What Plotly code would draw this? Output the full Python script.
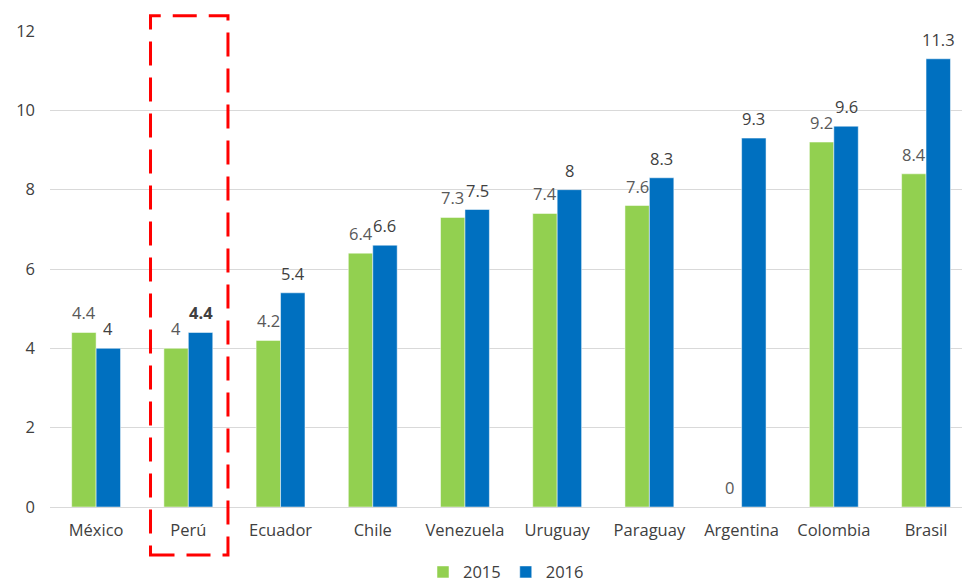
import plotly.graph_objects as go

countries = ["México", "Perú", "Ecuador", "Chile", "Venezuela", "Uruguay",
             "Paraguay", "Argentina", "Colombia", "Brasil"]
values_2015 = [4.4, 4.0, 4.2, 6.4, 7.3, 7.4, 7.6, 0, 9.2, 8.4]
values_2016 = [4.0, 4.4, 5.4, 6.6, 7.5, 8.0, 8.3, 9.3, 9.6, 11.3]
y_ticks = [0, 2, 4, 6, 8, 10, 12]
highlight = "Perú"

GREEN = "#92D050"
BLUE = "#0070C0"
FONT = "Open Sans"
SIZE = 16.5
BAR_HALF_PX = 12.2  # half the drawn width of one bar, for label centring


def fmt(v):
    return f"{v:g}"


fig = go.Figure()
fig.add_trace(go.Bar(
    name="2015", x=countries, y=values_2015, marker_color=GREEN,
    marker_line=dict(color="white", width=0.5),
))
fig.add_trace(go.Bar(
    name="2016", x=countries, y=values_2016, marker_color=BLUE,
    marker_line=dict(color="white", width=0.5),
))

# value labels above each bar
for c, v in zip(countries, values_2015):
    fig.add_annotation(
        x=c, y=v, text=fmt(v), showarrow=False, yanchor="bottom",
        xshift=-BAR_HALF_PX, yshift=6,
        font=dict(color="#595959", size=SIZE, family=FONT),
    )
for c, v in zip(countries, values_2016):
    label = f"<b>{fmt(v)}</b>" if c == highlight else fmt(v)
    fig.add_annotation(
        x=c, y=v, text=label, showarrow=False, yanchor="bottom",
        xshift=BAR_HALF_PX, yshift=6,
        font=dict(color="#404040", size=SIZE, family=FONT),
    )

# dashed frame around the highlighted country
idx = countries.index(highlight)
fig.add_shape(
    type="rect", xref="x", yref="paper",
    x0=idx - 0.41, x1=idx + 0.43, y0=-0.101, y1=1.032,
    line=dict(color="#FF0000", width=3, dash="24px,12px"),
    fillcolor="rgba(0,0,0,0)", layer="above",
)

fig.update_layout(
    width=962, height=582,
    margin=dict(l=50, r=0, t=31, b=75, autoexpand=False),
    paper_bgcolor="white", plot_bgcolor="white",
    barmode="group", bargap=0.47, bargroupgap=0,
    font=dict(family=FONT, size=SIZE, color="#404040"),
    showlegend=True,
    legend=dict(orientation="h", x=0.5, xanchor="center", y=-0.137,
                yanchor="middle", font=dict(size=SIZE, color="#404040"),
                itemwidth=30, traceorder="normal"),
)
fig.update_xaxes(
    range=[-0.5, 9.39], showgrid=False, showline=False, ticks="",
    tickfont=dict(size=SIZE, color="#404040"), ticklabelstandoff=11,
)
fig.update_yaxes(
    range=[0, 12], tickvals=y_ticks, showgrid=True, gridcolor="#D9D9D9",
    gridwidth=1, zeroline=True, zerolinecolor="#D9D9D9", zerolinewidth=1,
    showline=False, ticks="", tickfont=dict(size=SIZE, color="#404040"),
    ticklabelstandoff=14,
)

fig.write_html("out.html")
